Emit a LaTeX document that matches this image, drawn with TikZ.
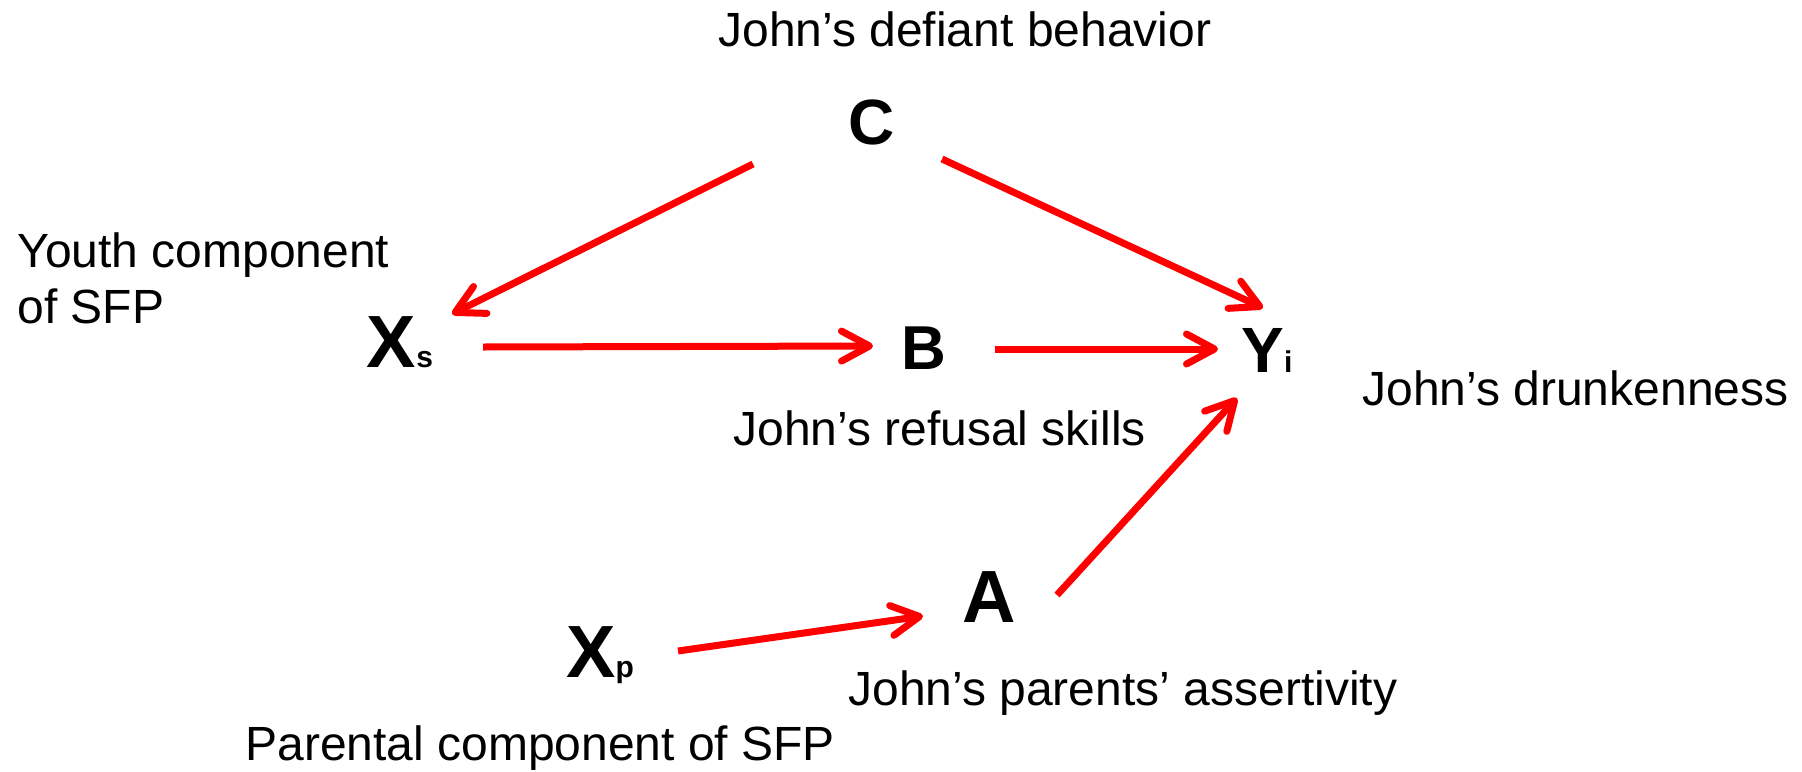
\documentclass[tikz,border=0pt]{standalone}
\usepackage{fontspec}
\setmainfont{Liberation Sans}
\usetikzlibrary{arrows.meta,calc}
\begin{document}
\begin{tikzpicture}[x=0.5pt,y=-0.5pt,
  lbl/.style={anchor=base west,inner sep=0pt,font=\fontsize{24pt}{28pt}\selectfont},
  var/.style={anchor=base,inner sep=0pt,font=\fontsize{32pt}{36pt}\selectfont\bfseries},
  bigvar/.style={anchor=base,inner sep=0pt,font=\fontsize{37pt}{40pt}\selectfont\bfseries},
  arr/.style={draw=red,line width=3.5pt,line cap=butt,
    -{Straight Barb[length=14pt,width=15pt,line cap=round,line join=round]}}
]
\useasboundingbox (0,0) rectangle (1802,771);
% variables
\node[var] (C) at (872,144) {C};
\node[bigvar] (Xs) at (400,367) {X{\fontsize{15pt}{16pt}\selectfont s}};
\node[var,font=\fontsize{31pt}{36pt}\selectfont\bfseries] (B) at (924,369) {B};
\node[var] (Yi) at (1267,372) {Y{\fontsize{15pt}{16pt}\selectfont i}};
\node[bigvar] (A) at (989,622) {A};
\node[bigvar] (Xp) at (600,677) {X{\fontsize{15pt}{16pt}\selectfont p}};
% labels
\node[lbl] (lC) at (718,46) {John’s defiant behavior};
\node[lbl] (lXs1) at (17,267) {Youth component};
\node[lbl] (lXs2) at (17,323) {of SFP};
\node[lbl] (lY) at (1362,405) {John’s drunkenness};
\node[lbl] (lB) at (733,445) {John’s refusal skills};
\node[lbl] (lA) at (848,705) {John’s parents’ assertivity};
\node[lbl] (lXp) at (245,760) {Parental component of SFP};
% arrows
\draw[arr] ($(C.base)+(-119,20)$) -- ($(Xs.base)+(52,-53)$);
\draw[arr] ($(C.base)+(70,15)$) -- ($(Yi.base)+(-4,-64)$);
\draw[arr] ($(Xs.base)+(83,-20)$) -- ($(B.base)+(-51,-23)$);
\draw[arr] ($(B.base)+(71,-20)$) -- ($(Yi.base)+(-49,-23)$);
\draw[arr] ($(A.base)+(68,-27)$) -- ($(Yi.base)+(-30,26)$);
\draw[arr] ($(Xp.base)+(78,-26)$) -- ($(A.base)+(-66,-6)$);
\end{tikzpicture}
\end{document}
